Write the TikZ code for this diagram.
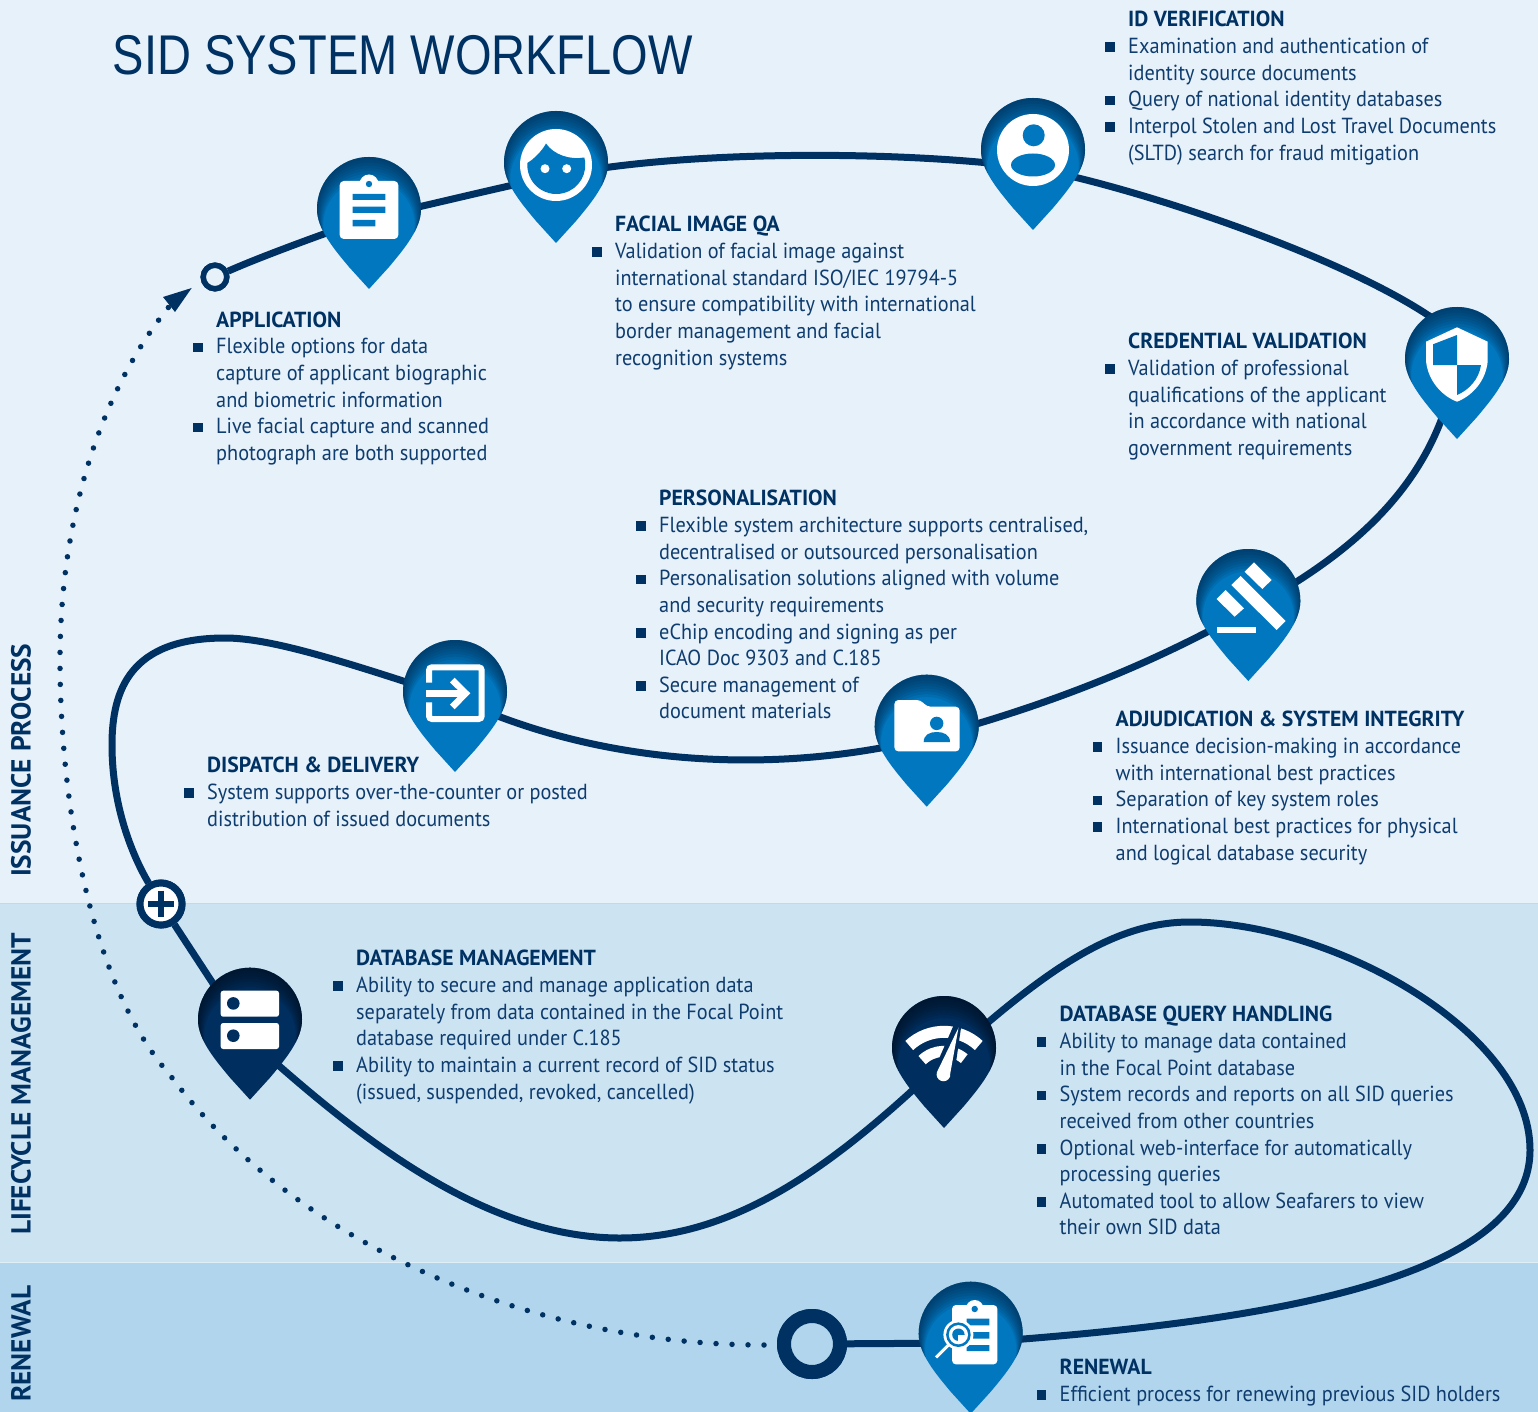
\documentclass[tikz,border=0pt]{standalone}
\usepackage{fontspec}
\setmainfont{PT Sans}[FakeStretch=0.93]
\newfontfamily\hdfont{PT Sans}[FakeStretch=0.995]
\newfontfamily\titlefont{Liberation Sans}[FakeStretch=0.84]
\usetikzlibrary{calc}
\definecolor{bgone}{HTML}{E6F1FA}
\definecolor{bgtwo}{HTML}{CCE3F2}
\definecolor{bgthree}{HTML}{B1D5EC}
\definecolor{navy}{HTML}{003163}
\definecolor{pinblue}{HTML}{0077BF}
\definecolor{pinnavy}{HTML}{002F5F}
\definecolor{shadeblue}{HTML}{002A50}
\definecolor{shadenavy}{HTML}{000F20}
\definecolor{bodytext}{HTML}{0E3C6E}
\newcommand{\pinpath}{(0,80) -- (-20,58) .. controls (-35,40) and (-52,20) .. (-52,0) arc[start angle=180,end angle=360,radius=52] .. controls (52,20) and (35,40) .. (20,58) -- cycle}
\newcommand{\mappin}[5]{% name, x, y, base colour, shadow colour
  \coordinate (#1) at (#2,#3);
  \begin{scope}[shift={(#2,#3)}]
    \fill[#4] \pinpath;
    \begin{scope}
      \clip \pinpath;
      \foreach \s/\f in {2/.985,4/.97,6/.955,8/.94,10/.925,12/.91,14/.895,16/.88}{
        \begin{scope}[shift={(0,\s)},scale=\f]
          \fill[#5,opacity=.13,even odd rule] (-200,-200) rectangle (200,200) \pinpath;
        \end{scope}
      }
    \end{scope}
  \end{scope}}
\newcommand{\hd}[1]{{\hdfont\bfseries\color{navy}#1}}
\newcommand{\bl}{\leavevmode\llap{\raisebox{1.5pt}{\color{navy}\rule{9.5pt}{9.5pt}}\hspace{13.5pt}}}
\tikzset{
  track/.style={navy,line width=7pt},
  dotline/.style={navy,line width=5.5pt,line cap=round,dash pattern=on 0pt off 16pt},
  block/.style={anchor=north west,inner sep=0pt,align=left,text=bodytext,font=\fontsize{21.8}{26.65}\selectfont},
  sidelabel/.style={anchor=west,inner sep=0pt,rotate=90,text=navy,font=\fontsize{27.5}{30}\selectfont\hdfont\bfseries},
  ringsmall/.style={circle,draw=navy,line width=5.5pt,fill=bgone,minimum size=23.5pt,inner sep=0pt},
  ringplus/.style={circle,draw=navy,line width=7pt,fill=white,minimum size=42pt,inner sep=0pt},
  ringend/.style={circle,draw=navy,line width=14pt,fill=bgthree,minimum size=56pt,inner sep=0pt}
}
\begin{document}
\begin{tikzpicture}[x=1pt,y=1pt,yscale=-1]
\useasboundingbox (0,0) rectangle (1538,1412);
% bands
\fill[bgone] (0,0) rectangle (1538,903);
\fill[bgtwo] (0,903) rectangle (1538,1262);
\fill[bgthree] (0,1262) rectangle (1538,1412);
\draw[line width=1pt,color=bgthree!60!bgtwo] (0,903.5) -- (1538,903.5);
\draw[line width=1pt,color=bgtwo!60!white] (0,1262.5) -- (1538,1262.5);
% rings as named nodes
\node[ringsmall] (startring) at (215,277) {};
\node[ringplus] (plusring) at (161,904) {};
\node[ringend] (endring) at (812,1344) {};
% waypoints hidden behind the pins
\coordinate (wApp) at (369,218);
\coordinate (wFace) at (556,176);
\coordinate (wId) at (1033,168);
\coordinate (wCred) at (1465,345);
\coordinate (wCredB) at (1457,360);
\coordinate (wAdj) at (1248,610);
\coordinate (wFold) at (927,738);
\coordinate (wDisp) at (455,698);
\coordinate (wDb) at (250,1040);
\coordinate (wQuery) at (945,1060);
\coordinate (wRen) at (971,1343);
\coordinate (dotStart) at (764,1345);
\coordinate (dotEnd) at (172,303);
% dotted return
\draw[dotline] (dotStart) .. controls (540,1345) and (300,1250) .. (170,1075)
   .. controls (90,985) and (60,800) .. (60,660)
   .. controls (60,520) and (100,390) .. (dotEnd);
\fill[navy] (191.7,288) -- (163,297) -- (175,312) -- cycle;
% main track
\draw[track] (startring) .. controls (260,257) and (320,235) .. (wApp);
\draw[track] (wApp) .. controls (430,205) and (500,187) .. (wFace);
\draw[track] (wFace) .. controls (680,150) and (900,150) .. (wId);
\draw[track] (wId) .. controls (1150,190) and (1400,275) .. (wCred);
\draw[track] (wCredB) .. controls (1440,470) and (1370,545) .. (wAdj);
\draw[track] (wAdj) .. controls (1150,665) and (1050,705) .. (wFold);
\draw[track] (wFold) .. controls (800,770) and (620,775) .. (wDisp);
\draw[track] (wDisp) .. controls (340,660) and (270,638) .. (225,638)
   .. controls (130,638) and (112,690) .. (112,745)
   .. controls (112,810) and (135,860) .. (plusring);
\draw[track] (plusring) -- (wDb);
\draw[track] (wDb) .. controls (350,1130) and (480,1238) .. (620,1238)
   .. controls (740,1238) and (840,1160) .. (wQuery);
\draw[track] (wQuery) .. controls (1040,975) and (1110,922) .. (1190,922)
   .. controls (1330,922) and (1530,1030) .. (1530,1150)
   .. controls (1530,1290) and (1220,1325) .. (wRen);
\draw[track] (wRen) -- (endring);
% redraw rings over the track
\node[ringsmall] at (215,277) {};
\node[ringplus] at (161,904) {};
\node[ringend] at (812,1344) {};
\draw[navy,line width=6pt] (147.7,904) -- (174.3,904) (161,890.7) -- (161,917.3);
% pins and icons
\mappin{pinApp}{369}{209}{pinblue}{shadeblue}
\begin{scope}[shift={(369,209)}]
  \fill[white] (0,-25) circle (9.5);
  \fill[white,rounded corners=4pt] (-29.3,-28) rectangle (29.3,30);
  \fill[pinblue] (0,-25) circle (3.2);
  \fill[pinblue] (-16.3,-15) rectangle (16.3,-9) (-16.3,-2.3) rectangle (16.3,4) (-16.3,11) rectangle (6.3,17.3);
\end{scope}
\mappin{pinFace}{556}{163}{pinblue}{shadeblue}
\begin{scope}[shift={(556,163)}]
  \fill[white] (0,2) circle (36);
  \fill[pinblue] (-28.7,0) .. controls (-22,-4) and (-14,-12) .. (-10,-19.5)
     .. controls (-2,-8) and (14,-3) .. (28.3,-5.5)
     arc[start angle=-15,end angle=184,radius=29] -- cycle;
  \fill[white] (-11,5.7) circle (4.5) (10.7,5.7) circle (4.5);
\end{scope}
\mappin{pinId}{1033}{150}{pinblue}{shadeblue}
\begin{scope}[shift={(1033,150)}]
  \fill[white] (0,0) circle (36);
  \fill[pinblue] (0.7,-14.7) circle (11);
  \fill[pinblue] (0,15) ellipse [x radius=22,y radius=11.5];
\end{scope}
\mappin{pinCred}{1457}{359}{pinblue}{shadeblue}
\begin{scope}[shift={(1457,359)}]
  \fill[white] (0,-31.7) -- (30.7,-17.3) -- (30.7,2) .. controls (29,22) and (15,37) .. (0,42.7)
     .. controls (-15,37) and (-29,22) .. (-31,2) -- (-31,-17.3) -- cycle;
  \fill[pinblue] (0,-24) -- (-24,-14.7) -- (-24,6) -- (0,6) -- cycle;
  \fill[pinblue] (0,6) -- (24,6) .. controls (22,20) and (12,31) .. (0,36) -- cycle;
\end{scope}
\mappin{pinAdj}{1248.3}{601}{pinblue}{shadeblue}
\begin{scope}[shift={(1248.3,601)}]
  \fill[white] (5.7,-38.7) -- (23.3,-21) -- (14,-12) -- (-3.7,-29.3) -- cycle;
  \fill[white] (-7.7,-25) -- (37.3,20) -- (28.3,29) -- (-17,-16) -- cycle;
  \fill[white] (-22.7,-11) -- (-4.3,7.3) -- (-13.7,15.7) -- (-31.7,-2) -- cycle;
  \fill[white] (-31.7,25.7) rectangle (7.7,32);
\end{scope}
\mappin{pinFold}{926.7}{726.7}{pinblue}{shadeblue}
\begin{scope}[shift={(926.7,726.7)}]
  \fill[white,rounded corners=4pt] (-32.3,-26.7) -- (-6,-26.7) -- (0,-20) -- (33,-20) -- (33,24.7) -- (-32.3,24.7) -- cycle;
  \fill[pinblue] (10,-3.3) circle (6.7);
  \fill[pinblue] (-3,15.3) .. controls (-3,8) and (3,5.3) .. (10,5.3) .. controls (17,5.3) and (23.3,8) .. (23.3,15.3) -- cycle;
\end{scope}
\mappin{pinDisp}{455}{692}{pinblue}{shadeblue}
\begin{scope}[shift={(455,692)}]
  \draw[white,line width=6pt,rounded corners=3pt] (-26,-9.3) -- (-26,-24.7) -- (26.7,-24.7) -- (26.7,27) -- (-26,27) -- (-26,10.3);
  \draw[white,line width=6.5pt] (-29,1.3) -- (11,1.3);
  \draw[white,line width=6.5pt] (-2.7,-12) -- (10.7,1.3) -- (-2.7,15);
\end{scope}
\mappin{pinDb}{250}{1019.7}{pinnavy}{shadenavy}
\begin{scope}[shift={(250,1019.7)}]
  \fill[white,rounded corners=2.5pt] (-29.3,-29) rectangle (29,-3);
  \fill[white,rounded corners=2.5pt] (-29.3,3.3) rectangle (29,29.3);
  \fill[pinnavy] (-16.7,-16.3) circle (6.3) (-16.7,16) circle (6.3);
\end{scope}
\mappin{pinQuery}{944}{1048}{pinnavy}{shadenavy}
\begin{scope}[shift={(944,1048)}]
  \draw[white,line width=12pt] (0,34.8) ++(-133:51) arc[start angle=-133,end angle=-47,radius=51];
  \draw[white,line width=11pt] (0,34.8) ++(-134:31.5) arc[start angle=-134,end angle=-50,radius=31.5];
  \draw[pinnavy,line width=7pt,line join=round] (14,-24) -- (-7,24) (14,-24) -- (6.5,28);
  \fill[pinnavy] (14,-24) -- (-7,24) -- (6.5,28) -- cycle;
  \fill[white,line join=round] (14.5,-20.3) -- (-7,24) arc[start angle=200,end angle=-10,radius=6.9] -- cycle;
\end{scope}
\mappin{pinRen}{970.7}{1333.7}{pinblue}{shadeblue}
\begin{scope}[shift={(970.7,1333.7)}]
  \fill[white] (4,-24.7) circle (9);
  \fill[white,rounded corners=4pt] (-18.7,-28.7) rectangle (26.7,30.7);
  \fill[pinblue] (4,-24.7) circle (3.2);
  \fill[pinblue] (-4,-15) rectangle (18.7,-8.3) (-4,-1.7) rectangle (18.7,5) (-4,11.3) rectangle (18.7,17.3);
  \draw[white,line width=3pt] (-22.3,11.3) -- (-34.7,23.7);
  \fill[white] (-12.3,1) circle (15);
  \fill[pinblue] (-12.3,1) circle (12.3);
  \fill[white] (-12.3,1) circle (9.6);
  \fill[pinblue] (-12.3,1) circle (6.2);
  \fill[white] (-12.3,1) rectangle (-5.5,7.5);
\end{scope}
% title
\node[anchor=base west,inner sep=0pt,text=navy,font=\fontsize{56}{60}\selectfont\titlefont] (title) at (112.5,75) {SID SYSTEM WORKFLOW};
% side labels
\node[sidelabel] (labIssue) at (21,877) {ISSUANCE PROCESS};
\node[sidelabel] (labLife) at (21,1235) {LIFECYCLE MANAGEMENT};
\node[sidelabel] (labRen) at (21,1402) {RENEWAL};
% text blocks
\node[block] (tApp) at (216,311.3) {\hd{APPLICATION}\\
\bl Flexible options for data\\
capture of applicant biographic\\
and biometric information\\
\bl Live facial capture and scanned\\
photograph are both supported};
\node[block] (tFace) at (615,216) {\hd{FACIAL IMAGE QA}\\
\bl Validation of facial image against\\
international standard ISO/IEC 19794-5\\
to ensure compatibility with international\\
border management and facial\\
recognition systems};
\node[block] (tId) at (1128,11) {\hd{ID VERIFICATION}\\
\bl Examination and authentication of\\
identity source documents\\
\bl Query of national identity databases\\
\bl Interpol Stolen and Lost Travel Documents\\
(SLTD) search for fraud mitigation};
\node[block] (tCred) at (1128,333) {\hd{CREDENTIAL VALIDATION}\\
\bl Validation of professional\\
qualifications of the applicant\\
in accordance with national\\
government requirements};
\node[block] (tPers) at (659,490) {\hd{PERSONALISATION}\\
\bl Flexible system architecture supports centralised,\\
decentralised or outsourced personalisation\\
\bl Personalisation solutions aligned with volume\\
and security requirements\\
\bl eChip encoding and signing as per\\
ICAO Doc 9303 and C.185\\
\bl Secure management of\\
document materials};
\node[block] (tAdj) at (1115.5,711) {\hd{ADJUDICATION \& SYSTEM INTEGRITY}\\
\bl Issuance decision-making in accordance\\
with international best practices\\
\bl Separation of key system roles\\
\bl International best practices for physical\\
and logical database security};
\node[block] (tDisp) at (207,757) {\hd{DISPATCH \& DELIVERY}\\
\bl System supports over-the-counter or posted\\
distribution of issued documents};
\node[block] (tDb) at (356,950) {\hd{DATABASE MANAGEMENT}\\
\bl Ability to secure and manage application data\\
separately from data contained in the Focal Point\\
database required under C.185\\
\bl Ability to maintain a current record of SID status\\
(issued, suspended, revoked, cancelled)};
\node[block] (tQuery) at (1059.5,1006) {\hd{DATABASE QUERY HANDLING}\\
\bl Ability to manage data contained\\
in the Focal Point database\\
\bl System records and reports on all SID queries\\
received from other countries\\
\bl Optional web-interface for automatically\\
processing queries\\
\bl Automated tool to allow Seafarers to view\\
their own SID data};
\node[block] (tRen) at (1059.5,1359) {\hd{RENEWAL}\\
\bl Efficient process for renewing previous SID holders};
\end{tikzpicture}
\end{document}
